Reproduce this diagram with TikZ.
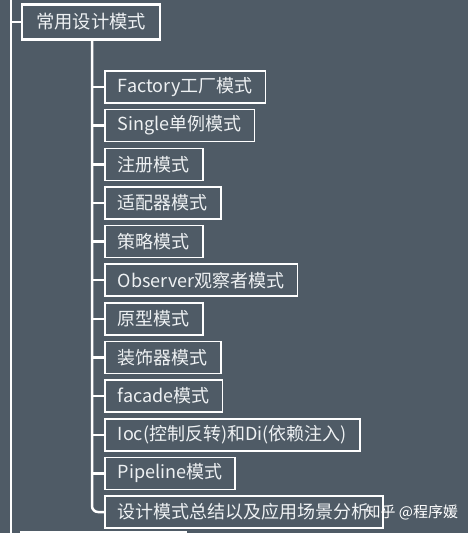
\documentclass[tikz,border=0pt]{standalone}
\usepackage{fontspec}
\setmainfont{Noto Sans CJK SC}
\usepackage{xcolor}
\usetikzlibrary{calc}

\definecolor{slate}{HTML}{4F5B66}
\definecolor{chalk}{HTML}{EEF1F3}

\tikzset{
	topic/.style = {draw=white, line width=2.4pt, text=chalk, font=\fontsize{18.3}{21}\selectfont, inner xsep=14pt, inner ysep=0pt, minimum height=35pt, anchor=west},
	sub/.style = {draw=white, line width=1.5pt, text=chalk, font=\fontsize{18}{21}\selectfont, inner xsep=13pt, inner ysep=0pt, minimum height=32pt, anchor=west},
	wire/.style = {draw=white, line width=2.5pt}
}

\begin{document}
\begin{tikzpicture}[x=1pt, y=-1pt]
		\fill[slate] (0,0) rectangle (468,533);
		\useasboundingbox (0,0) rectangle (468,533);
		
		% main topic
		\coordinate (spine) at (11,0);
		\coordinate (spineend) at (11,533);
		\node[topic] (root) at (21,22) {常用设计模式};
		\draw[wire] (spine) -- (spineend);
		\draw[wire] (spine |- root.west) -- (root.west);
		
		% sub topics
		\node[sub] (c1) at (104,87) {Factory工厂模式};
		\node[sub] (c2) at (104,125.6) {Single单例模式};
		\node[sub] (c3) at (104,164.3) {注册模式};
		\node[sub] (c4) at (104,202.9) {适配器模式};
		\node[sub] (c5) at (104,241.6) {策略模式};
		\node[sub] (c6) at (104,280.2) {Observer观察者模式};
		\node[sub] (c7) at (104,318.8) {原型模式};
		\node[sub] (c8) at (104,357.5) {装饰器模式};
		\node[sub] (c9) at (104,396.1) {facade模式};
		\node[sub] (c10) at (104,434.8) {Ioc(控制反转)和Di(依赖注入)};
		\node[sub] (c11) at (104,473.4) {Pipeline模式};
		\node[sub] (c12) at (104,512) {设计模式总结以及应用场景分析};
		
		% trunk
		\coordinate (trunk) at (92,40);
		\draw[wire, rounded corners=6pt] (trunk) |- (c12.west);
		\foreach \i in {1,...,11}
			\draw[wire] (trunk |- c\i.west) -- (c\i.west);
		
		% next topic, cut off
		\coordinate (nexttop) at (20,532);
		\coordinate (nextend) at (187,532);
		\draw[wire, line width=2pt] (nexttop) -- (nextend);
		
		% watermark
		\node[text=white, font=\fontsize{15}{18}\selectfont, anchor=west] (mark) at (362,512) {知乎 @程序媛};
	\end{tikzpicture}
\end{document}
